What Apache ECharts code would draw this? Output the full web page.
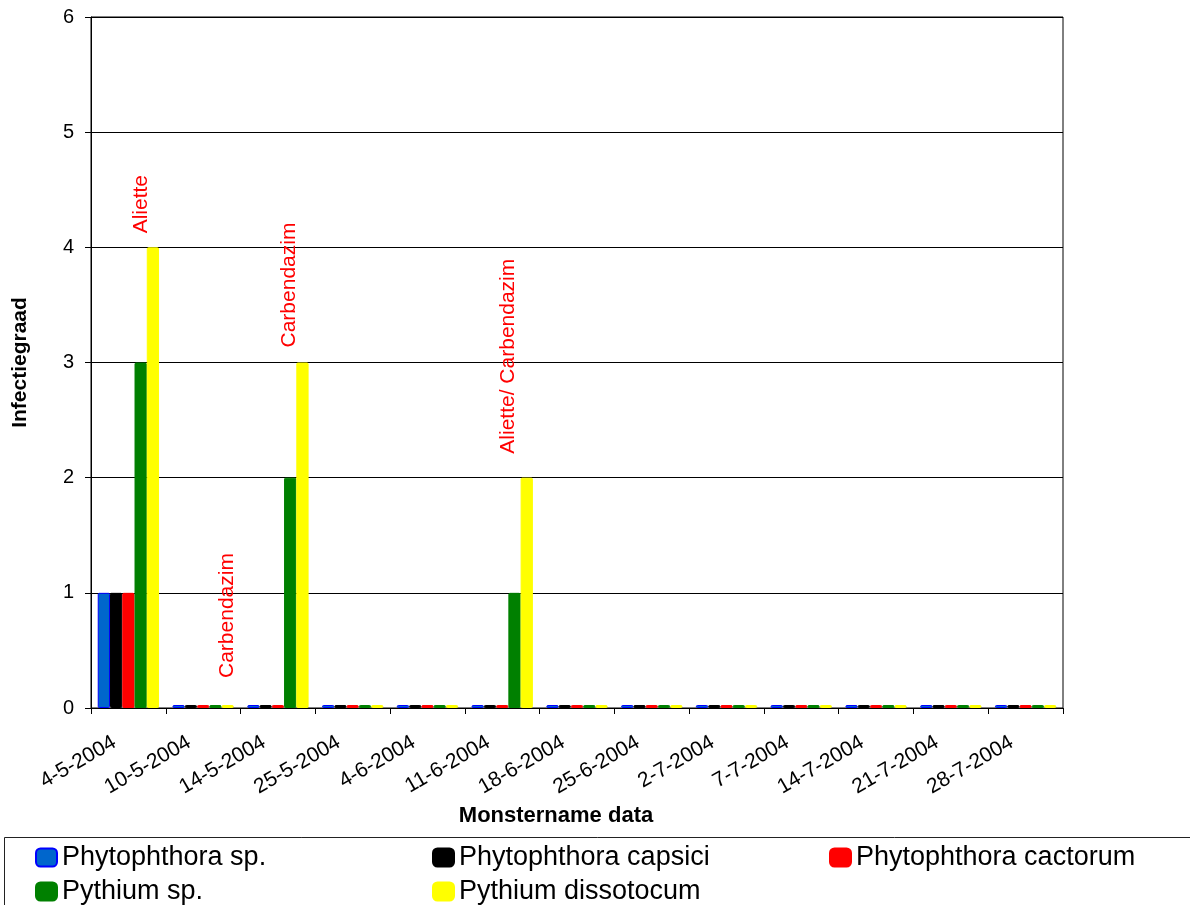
<!DOCTYPE html>
<html>
<head>
<meta charset="utf-8">
<script src="https://cdn.jsdelivr.net/npm/echarts@6/dist/echarts.min.js"></script>
<style>
html,body{margin:0;padding:0;background:#fff;}
#chart{width:1190px;height:905px;}
</style>
</head>
<body>
<div id="chart"></div>
<script>
const categories = ['4-5-2004','10-5-2004','14-5-2004','25-5-2004','4-6-2004','11-6-2004','18-6-2004','25-6-2004','2-7-2004','7-7-2004','14-7-2004','21-7-2004','28-7-2004'];
const phytophthoraSp = [1,0,0,0,0,0,0,0,0,0,0,0,0];
const phytophthoraCapsici = [1,0,0,0,0,0,0,0,0,0,0,0,0];
const phytophthoraCactorum = [1,0,0,0,0,0,0,0,0,0,0,0,0];
const pythiumSp = [3,0,2,0,0,1,0,0,0,0,0,0,0];
const pythiumDissotocum = [4,0,3,0,0,2,0,0,0,0,0,0,0];
const treatments = ['Aliette','Carbendazim','Carbendazim','','','Aliette/ Carbendazim','','','','','','',''];
const yTicks = [0,1,2,3,4,5,6];

// label placement (style only)
const treatmentShift = [-12,0,-13,0,0,-19,0,0,0,0,0,0,0];
const treatmentGap = [14,27,15,0,0,24,0,0,0,0,0,0,0];

const seriesDefs = [
  {name:'Phytophthora sp.', data:phytophthoraSp, color:'#0066CC', border:'#0000FF'},
  {name:'Phytophthora capsici', data:phytophthoraCapsici, color:'#000000', border:'#000000'},
  {name:'Phytophthora cactorum', data:phytophthoraCactorum, color:'#FF0000', border:'#FF0000'},
  {name:'Pythium sp.', data:pythiumSp, color:'#008000', border:'#008000'},
  {name:'Pythium dissotocum', data:pythiumDissotocum, color:'#FFFF00', border:'#FFFF00'}
];

const FONT = '"Liberation Sans", Arial, sans-serif';

const series = seriesDefs.map((s, si) => {
  const isLast = si === seriesDefs.length - 1;
  return {
    type:'bar',
    name:s.name,
    barGap:'0%',
    barCategoryGap:'18%',
    barMinHeight:3,
    itemStyle:{color:s.color, borderColor:s.border, borderWidth:1, borderRadius:1},
    data: s.data.map((v, i) => {
      const item = {value:v};
      if (isLast && treatments[i]) {
        item.label = {
          show:true,
          formatter: treatments[i],
          position:'top',
          distance: treatmentGap[i],
          rotate:90,
          align:'left',
          verticalAlign:'middle',
          offset:[0, treatmentShift[i]],
          color:'#FF0000',
          fontSize:21,
          fontFamily:FONT
        };
      }
      return item;
    }),
    animation:false
  };
});

const chart = echarts.init(document.getElementById('chart'), null, {renderer:'canvas'});
const legendCommon = {
  orient:'vertical',
  top:844,
  height:80,
  padding:0,
  itemWidth:21,
  itemHeight:18,
  itemGap:7,
  icon:'roundRect',
  textStyle:{fontSize:27, color:'#000', fontFamily:FONT},
  selectedMode:true
};
chart.setOption({
  backgroundColor:'#ffffff',
  animation:false,
  textStyle:{fontFamily:FONT},
  grid:{left:91, top:17, right:127, bottom:197, show:true, borderColor:'#000', borderWidth:1, outerBoundsMode:'none', containLabel:false},
  legend:[
    Object.assign({left:35, data:['Phytophthora sp.','Pythium sp.']}, legendCommon),
    Object.assign({left:432, data:['Phytophthora capsici','Pythium dissotocum']}, legendCommon),
    Object.assign({left:829, data:['Phytophthora cactorum']}, legendCommon)
  ],
  graphic:[{
    type:'rect', silent:true, z:-1,
    shape:{x:4.5, y:837.5, width:1200, height:100},
    style:{fill:'none', stroke:'#222', lineWidth:1}
  }],
  xAxis:{
    type:'category',
    data:categories,
    name:'Monstername data',
    nameLocation:'middle',
    nameGap:97,
    nameTextStyle:{fontSize:22, fontWeight:'bold', color:'#000', fontFamily:FONT, padding:[0,42,0,0]},
    axisLine:{lineStyle:{color:'#000', width:1}},
    axisTick:{show:true, length:6, lineStyle:{color:'#000'}},
    axisLabel:{rotate:30, interval:0, fontSize:21, color:'#000', margin:25, padding:[0,16,0,0], hideOverlap:false, fontFamily:FONT}
  },
  yAxis:{
    type:'value',
    min:yTicks[0],
    max:yTicks[yTicks.length-1],
    interval:1,
    name:'Infectiegraad',
    nameLocation:'middle',
    nameGap:60,
    nameMoveOverlap:false,
    nameTextStyle:{fontSize:21, fontWeight:'bold', color:'#000', fontFamily:FONT},
    axisLine:{show:true, lineStyle:{color:'#000', width:1}},
    axisTick:{show:true, length:6, lineStyle:{color:'#000'}},
    axisLabel:{fontSize:20, color:'#000', margin:17, fontFamily:FONT},
    splitLine:{show:true, lineStyle:{color:'#000', width:1}}
  },
  series:series
});
</script>
</body>
</html>
